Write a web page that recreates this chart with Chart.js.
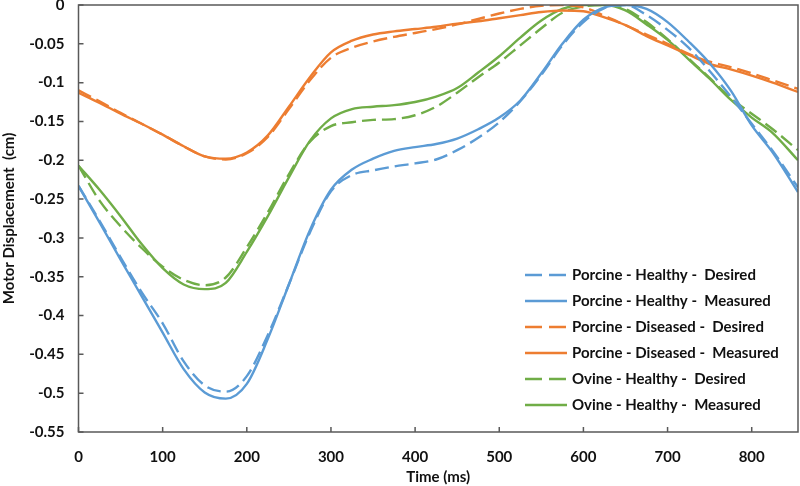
<!DOCTYPE html>
<html>
<head>
<meta charset="utf-8">
<script src="https://cdn.jsdelivr.net/npm/chart.js@4.4.1/dist/chart.umd.min.js"></script>
<style>
  html, body { margin: 0; padding: 0; background: #fff; }
  #wrap { width: 800px; height: 486px; }
</style>
</head>
<body>
<div id="wrap"><canvas id="chart" width="800" height="486"></canvas></div>
<script>
// time in ms
var tempi = [0,25,50,75,100,125,150,175,200,225,250,275,300,325,350,375,400,425,450,475,500,525,550,575,600,625,650,675,700,725,750,775,800,825,855];

var porcineSanoDesiderato = [-0.233,-0.278,-0.325,-0.37,-0.41,-0.459,-0.49,-0.498,-0.478,-0.425,-0.36,-0.293,-0.24,-0.219,-0.213,-0.208,-0.204,-0.199,-0.187,-0.171,-0.151,-0.124,-0.09,-0.052,-0.022,-0.004,0,-0.013,-0.032,-0.055,-0.085,-0.118,-0.153,-0.188,-0.235];
var porcineSanoMisurato = [-0.233,-0.28,-0.328,-0.375,-0.422,-0.469,-0.499,-0.507,-0.488,-0.43,-0.36,-0.29,-0.238,-0.212,-0.198,-0.188,-0.183,-0.179,-0.172,-0.16,-0.145,-0.123,-0.088,-0.05,-0.019,-0.003,0,-0.005,-0.022,-0.047,-0.075,-0.11,-0.155,-0.19,-0.241];
var porcineMalatoDesiderato = [-0.11,-0.124,-0.139,-0.153,-0.167,-0.182,-0.195,-0.199,-0.191,-0.17,-0.134,-0.097,-0.068,-0.055,-0.047,-0.041,-0.036,-0.031,-0.025,-0.018,-0.011,-0.005,-0.001,0,-0.003,-0.014,-0.026,-0.038,-0.05,-0.063,-0.073,-0.08,-0.088,-0.097,-0.108];
var porcineMalatoMisurato = [-0.113,-0.126,-0.14,-0.153,-0.167,-0.182,-0.195,-0.198,-0.19,-0.168,-0.131,-0.093,-0.061,-0.046,-0.038,-0.034,-0.031,-0.028,-0.024,-0.021,-0.017,-0.013,-0.009,-0.007,-0.008,-0.016,-0.026,-0.04,-0.052,-0.064,-0.076,-0.083,-0.091,-0.1,-0.112];
var ovinoSanoDesiderato = [-0.207,-0.252,-0.285,-0.313,-0.337,-0.354,-0.361,-0.351,-0.312,-0.267,-0.218,-0.176,-0.156,-0.151,-0.148,-0.147,-0.142,-0.131,-0.113,-0.093,-0.074,-0.052,-0.03,-0.01,-0.002,0,-0.005,-0.022,-0.044,-0.069,-0.094,-0.12,-0.14,-0.16,-0.187];
var ovinoSanoMisurato = [-0.207,-0.238,-0.272,-0.308,-0.339,-0.36,-0.366,-0.358,-0.318,-0.272,-0.222,-0.175,-0.146,-0.134,-0.131,-0.129,-0.125,-0.118,-0.107,-0.087,-0.066,-0.042,-0.02,-0.005,0,0,-0.007,-0.025,-0.045,-0.07,-0.095,-0.122,-0.145,-0.165,-0.2];

var xTicks = [0,100,200,300,400,500,600,700,800];
var yTicks = [0,-0.05,-0.1,-0.15,-0.2,-0.25,-0.3,-0.35,-0.4,-0.45,-0.5,-0.55];

var blu = '#5B9BD5', arancio = '#ED7D31', verde = '#70AD47';

function punti(valori) {
    var out = [];
    for (var i = 0; i < tempi.length; i++) {
        out.push({x: tempi[i], y: valori[i]});
    }
    return out;
}

function serie(nome, valori, colore, tratteggio) {
    return {
        label: nome,
        data: punti(valori),
        borderColor: colore,
        borderWidth: 2.4,
        borderDash: tratteggio ? [14, 6] : [],
        pointRadius: 0,
        fill: false,
        cubicInterpolationMode: 'monotone'
    };
}

// box round the plot area, inward ticks, legend inside
var cornice = {
    id: 'cornice',
    afterDraw: function (chart) {
        var ctx = chart.ctx;
        var a = chart.chartArea;
        var sx = chart.scales.x, sy = chart.scales.y;
        ctx.save();
        ctx.strokeStyle = '#595959';
        ctx.lineWidth = 1.5;
        ctx.strokeRect(a.left, a.top, a.right - a.left, a.bottom - a.top);
        ctx.beginPath();
        xTicks.forEach(function (v) {
            var px = sx.getPixelForValue(v);
            ctx.moveTo(px, a.bottom);
            ctx.lineTo(px, a.bottom - 5);
        });
        yTicks.forEach(function (v) {
            var py = sy.getPixelForValue(v);
            ctx.moveTo(a.left, py);
            ctx.lineTo(a.left + 5, py);
        });
        ctx.stroke();

        // legend
        var x0 = a.right - 273, y0 = a.top + 270;
        ctx.font = 'bold 15px Lato';
        ctx.textBaseline = 'middle';
        ctx.fillStyle = '#111';
        chart.data.datasets.forEach(function (ds, i) {
            var y = y0 + i * 26;
            ctx.beginPath();
            ctx.strokeStyle = ds.borderColor;
            ctx.lineWidth = 2.4;
            ctx.setLineDash(ds.borderDash.length ? [17, 7] : []);
            ctx.moveTo(x0, y);
            ctx.lineTo(x0 + 42, y);
            ctx.stroke();
            ctx.setLineDash([]);
            ctx.fillText(ds.label, x0 + 47, y);
        });
        ctx.restore();
    }
};

Chart.defaults.font.family = 'Lato';
Chart.defaults.font.weight = 'bold';
Chart.defaults.font.size = 15;
Chart.defaults.color = '#111';

var ctx = document.getElementById('chart');
var grafico = new Chart(ctx, {
    type: 'line',
    data: {
        datasets: [
            serie('Porcine - Healthy -  Desired', porcineSanoDesiderato, blu, true),
            serie('Porcine - Healthy -  Measured', porcineSanoMisurato, blu, false),
            serie('Porcine - Diseased -  Desired', porcineMalatoDesiderato, arancio, true),
            serie('Porcine - Diseased -  Measured', porcineMalatoMisurato, arancio, false),
            serie('Ovine - Healthy -  Desired', ovinoSanoDesiderato, verde, true),
            serie('Ovine - Healthy -  Measured', ovinoSanoMisurato, verde, false)
        ]
    },
    options: {
        responsive: false,
        animation: false,
        layout: { padding: { left: 0, right: 2, top: 5, bottom: 0 } },
        plugins: {
            legend: { display: false },
            tooltip: { enabled: false }
        },
        scales: {
            x: {
                type: 'linear',
                min: 0,
                max: 855,
                afterBuildTicks: function (scale) {
                    scale.ticks = xTicks.map(function (v) { return {value: v}; });
                },
                ticks: { padding: 8 },
                grid: { display: false },
                border: { display: false },
                title: { display: true, text: 'Time (ms)', font: { size: 15, weight: 'bold' }, padding: { top: 4, bottom: 0 } },
                afterFit: function (scale) { scale.height = 54; }
            },
            y: {
                type: 'linear',
                min: -0.55,
                max: 0,
                afterBuildTicks: function (scale) {
                    scale.ticks = yTicks.map(function (v) { return {value: v}; });
                },
                ticks: {
                    padding: 6,
                    callback: function (v) { return String(Math.round(v * 100) / 100); }
                },
                grid: { display: false },
                border: { display: false },
                title: { display: true, text: 'Motor Displacement  (cm)', font: { size: 15, weight: 'bold' }, padding: { top: 0, bottom: 0 } },
                afterFit: function (scale) {
                    scale.width = 78.5;
                    scale.paddingTop = 0;
                    scale.paddingBottom = 0;
                }
            }
        }
    },
    plugins: [cornice]
});
</script>
</body>
</html>
